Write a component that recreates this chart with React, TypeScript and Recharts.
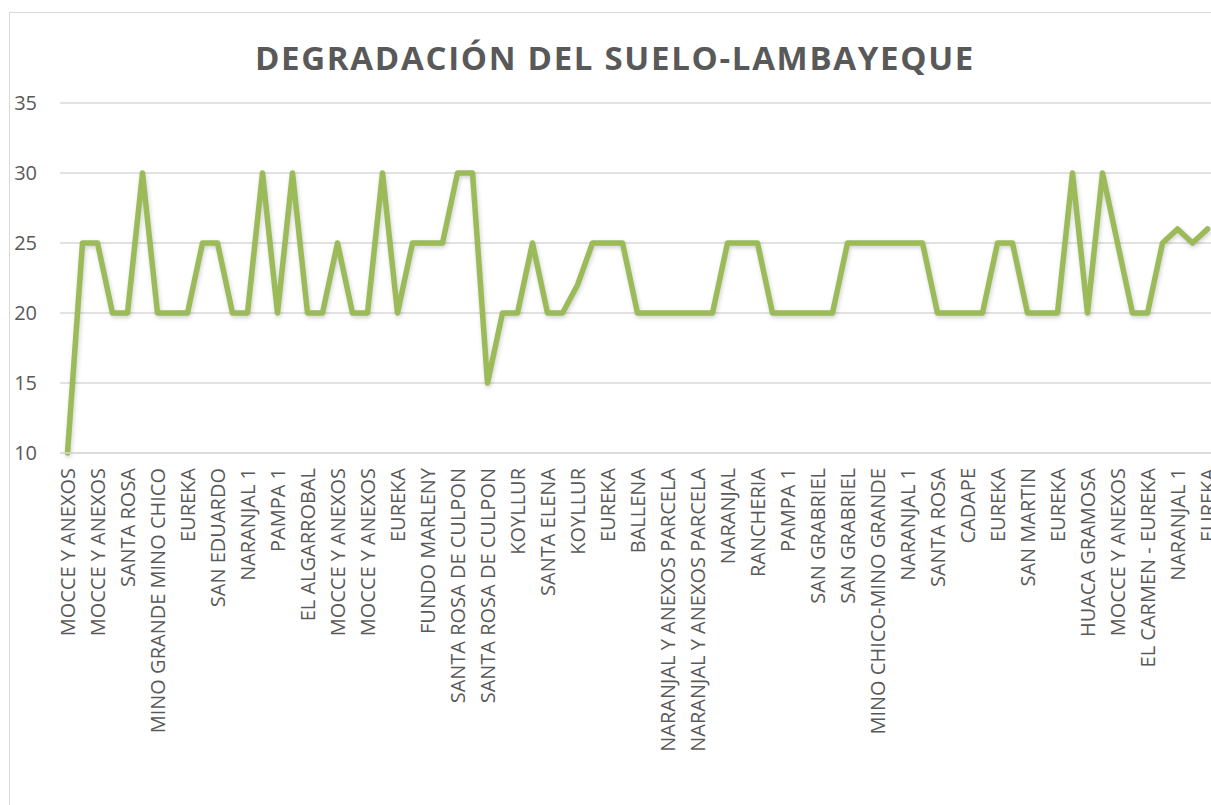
import React from "react";
import { LineChart, Line, XAxis, YAxis, CartesianGrid } from "recharts";

const categories: string[] = [
  "MOCCE Y ANEXOS", "", "MOCCE Y ANEXOS", "", "SANTA ROSA", "", "MINO GRANDE MINO CHICO", "", "EUREKA", "",
  "SAN EDUARDO", "", "NARANJAL 1", "", "PAMPA 1", "", "EL ALGARROBAL", "", "MOCCE Y ANEXOS", "",
  "MOCCE Y ANEXOS", "", "EUREKA", "", "FUNDO MARLENY", "", "SANTA ROSA DE CULPON", "", "SANTA ROSA DE CULPON", "",
  "KOYLLUR", "", "SANTA ELENA", "", "KOYLLUR", "", "EUREKA", "", "BALLENA", "",
  "NARANJAL Y ANEXOS PARCELA", "", "NARANJAL Y ANEXOS PARCELA", "", "NARANJAL", "", "RANCHERIA", "", "PAMPA 1", "",
  "SAN GRABRIEL", "", "SAN GRABRIEL", "", "MINO CHICO-MINO GRANDE", "", "NARANJAL 1", "", "SANTA ROSA", "",
  "CADAPE", "", "EUREKA", "", "SAN MARTIN", "", "EUREKA", "", "HUACA GRAMOSA", "",
  "MOCCE Y ANEXOS", "", "EL CARMEN - EUREKA", "", "NARANJAL 1", "", "EUREKA",
];

const values: number[] = [
  10, 25, 25, 20, 20, 30, 20, 20, 20, 25,
  25, 20, 20, 30, 20, 30, 20, 20, 25, 20,
  20, 30, 20, 25, 25, 25, 30, 30, 15, 20,
  20, 25, 20, 20, 22, 25, 25, 25, 20, 20,
  20, 20, 20, 20, 25, 25, 25, 20, 20, 20,
  20, 20, 25, 25, 25, 25, 25, 25, 20, 20,
  20, 20, 25, 25, 20, 20, 20, 30, 20, 30,
  25, 20, 20, 25, 26, 25, 26,
];

const yTicks: number[] = [10, 15, 20, 25, 30, 35];

const title = "DEGRADACIÓN DEL SUELO-LAMBAYEQUE";

const data = categories.map((c, i) => ({ idx: i, name: c, value: values[i] }));

const FONT = "'Open Sans', sans-serif";
const GRAY = "#595959";

const XTick = (props: any) => {
  const { x, y, payload } = props;
  const label = categories[payload.value] ?? "";
  return (
    <text
      transform={`translate(${x},${y}) rotate(-90)`}
      textAnchor="end"
      dy="0.36em"
      fontSize={20}
      fontFamily={FONT}
      fill={GRAY}
    >
      {label}
    </text>
  );
};

export default function App() {
  return (
    <div
      style={{
        position: "absolute",
        left: 0,
        top: 0,
        width: 1211,
        height: 805,
        overflow: "hidden",
        background: "#fff",
      }}
    >
      <div
        style={{
          position: "absolute",
          left: 9,
          top: 12,
          width: 1220,
          height: 820,
          border: "1px solid #d9d9d9",
          boxSizing: "border-box",
        }}
      />
      <svg
        width={1230}
        height={100}
        style={{ position: "absolute", left: 0, top: 0 }}
      >
        <text
          x={615}
          y={70}
          textAnchor="middle"
          fontSize={33}
          letterSpacing={1.7}
          fontWeight="bold"
          fontFamily={FONT}
          fill={GRAY}
        >
          {title}
        </text>
      </svg>
      <div style={{ position: "absolute", left: 0, top: 0 }}>
        <LineChart
          width={1230}
          height={805}
          data={data}
          margin={{ top: 103, right: 15, left: 0, bottom: 0 }}
        >
          <CartesianGrid vertical={false} stroke="#d9d9d9" strokeWidth={1.5} />
          <XAxis
            dataKey="idx"
            type="category"
            interval={1}
            height={352}
            padding={{ left: 7.5, right: 7.5 }}
            axisLine={{ stroke: "#d9d9d9", strokeWidth: 1.5 }}
            tickLine={false}
            tick={<XTick />}
            tickMargin={9}
          />
          <YAxis
            type="number"
            domain={[10, 35]}
            ticks={yTicks}
            width={60}
            axisLine={false}
            tickLine={false}
            tickSize={0}
            tickMargin={23}
            interval={0}
            tick={{ fontSize: 20, fontFamily: FONT, fill: GRAY }}
          />
          <Line
            type="linear"
            dataKey="value"
            stroke="#9bbb59"
            strokeWidth={5.5}
            strokeLinejoin="round"
            strokeLinecap="round"
            dot={false}
            activeDot={false}
            isAnimationActive={false}
            style={{ filter: "drop-shadow(1px 2px 2px rgba(0,0,0,0.18))" }}
          />
        </LineChart>
      </div>
    </div>
  );
}
